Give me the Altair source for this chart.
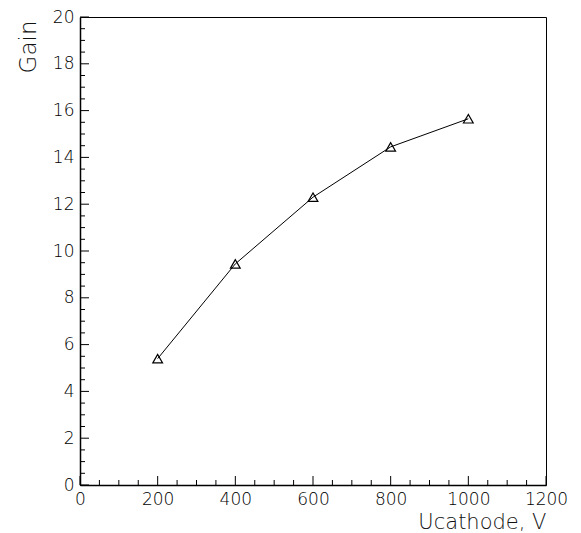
import altair as alt
import pandas as pd

# Measured gain versus cathode voltage
voltage = [200, 400, 600, 800, 1000]
gain = [5.4, 9.45, 12.3, 14.45, 15.65]

x_major = [0, 200, 400, 600, 800, 1000, 1200]
x_minor = [50, 100, 150, 250, 300, 350, 450, 500, 550, 650, 700, 750,
           850, 900, 950, 1050, 1100, 1150]
y_major = [0, 2, 4, 6, 8, 10, 12, 14, 16, 18, 20]
y_minor = [0.5, 1, 1.5, 2.5, 3, 3.5, 4.5, 5, 5.5, 6.5, 7, 7.5, 8.5, 9, 9.5,
           10.5, 11, 11.5, 12.5, 13, 13.5, 14.5, 15, 15.5, 16.5, 17, 17.5,
           18.5, 19, 19.5]

W, H = 466, 468
FONT = "DejaVu Sans"

df = pd.DataFrame({"v": voltage, "g": gain})

xs = alt.Scale(domain=[0, 1200], nice=False, zero=False)
ys = alt.Scale(domain=[0, 20], nice=False, zero=False)

x_axis = alt.Axis(values=x_major, format="d", title="Ucathode, V", grid=False,
                  ticks=False, domainColor="black", domainWidth=1.5,
                  labelFont=FONT, labelFontSize=17, labelFontWeight=200,
                  labelColor="black", labelPadding=6, labelFlush=False,
                  labelBaseline="top",
                  titleFont=FONT, titleFontSize=21, titleFontWeight=200,
                  titleColor="#111", titleAnchor="end", titleAlign="right",
                  titleX=W, titleY=43, titleBaseline="alphabetic")
y_axis = alt.Axis(values=y_major, format="d", title="Gain", grid=False,
                  ticks=False, domainColor="black", domainWidth=1.5,
                  labelFont=FONT, labelFontSize=17, labelFontWeight=200,
                  labelColor="black", labelPadding=6, labelFlush=False,
                  titleFont=FONT, titleFontSize=23, titleFontWeight=200,
                  titleColor="#111", titleAngle=270, titleAlign="right",
                  titleBaseline="middle", titleX=-52, titleY=3)

line = alt.Chart(df).mark_line(color="black", strokeWidth=1).encode(
    x=alt.X("v:Q", scale=xs, axis=x_axis),
    y=alt.Y("g:Q", scale=ys, axis=y_axis),
)
points = alt.Chart(df).mark_point(shape="triangle-up", filled=False,
                                  color="black", strokeWidth=1.2, size=95,
                                  opacity=1).encode(
    x=alt.X("v:Q", scale=xs), y=alt.Y("g:Q", scale=ys))

def xticks(vals, length):
    return alt.Chart(pd.DataFrame({"t": vals})).mark_rule(
        color="black", strokeWidth=1).encode(
        x=alt.X("t:Q", scale=xs), y=alt.value(H), y2=alt.value(H - length))

def yticks(vals, length):
    return alt.Chart(pd.DataFrame({"t": vals})).mark_rule(
        color="black", strokeWidth=1).encode(
        y=alt.Y("t:Q", scale=ys), x=alt.value(0), x2=alt.value(length))

chart = alt.layer(
    xticks(x_major, 9), xticks(x_minor, 5),
    yticks(y_major, 9), yticks(y_minor, 5),
    line, points,
).properties(
    width=W, height=H,
    autosize=alt.AutoSizeParams(type="none"),
    padding={"left": 80, "top": 17, "right": 35, "bottom": 48},
    background="white",
).configure_view(stroke="black", strokeWidth=1)

chart.save("out.html", embed_options={"renderer": "svg", "actions": False})
